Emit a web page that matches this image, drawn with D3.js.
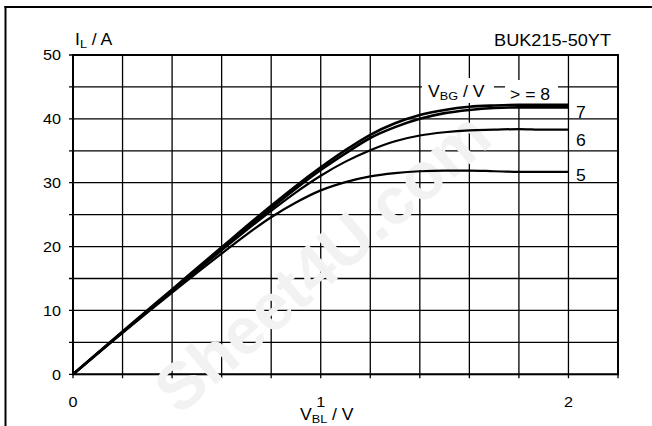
<!DOCTYPE html>
<html>
<head>
<meta charset="utf-8">
<script src="https://cdn.jsdelivr.net/npm/d3@7/dist/d3.min.js"></script>
<style>
  html, body { margin: 0; padding: 0; background: #fff; }
  svg { display: block; }
  text { font-family: "Liberation Sans", Arial, sans-serif; fill: #000; }
</style>
</head>
<body>
<svg id="chart" width="652" height="426"></svg>
<script>
// ---- data ----
const vbl = [0, 0.2, 0.4, 0.6, 0.8, 0.9, 1.0, 1.1, 1.2, 1.3, 1.4, 1.5, 1.6, 1.7, 1.8, 1.9, 2.0];
const iL_ge8 = [0, 6.7, 13.3, 19.9, 26.4, 29.5, 32.4, 35.1, 37.5, 39.3, 40.6, 41.4, 41.9, 42.1, 42.2, 42.2, 42.2];
const iL_7   = [0, 6.6, 13.1, 19.6, 26.0, 29.1, 32.0, 34.6, 37.0, 38.7, 40.0, 40.9, 41.4, 41.7, 41.8, 41.8, 41.8];
const iL_6   = [0, 6.6, 13.0, 19.4, 25.6, 28.5, 31.1, 33.3, 35.1, 36.5, 37.4, 37.9, 38.2, 38.3, 38.4, 38.3, 38.3];
const iL_5   = [0, 6.5, 12.8, 18.9, 24.6, 26.9, 28.8, 30.1, 31.0, 31.5, 31.8, 31.9, 31.9, 31.8, 31.7, 31.7, 31.7];
const seriesNames = ["> = 8", "7", "6", "5"];
const xTickLabels = ["0", "1", "2"];
const yTickLabels = ["0", "10", "20", "30", "40", "50"];
const deviceName = "BUK215-50YT";
const watermark = "Sheet4U.com";

const series = [iL_ge8, iL_7, iL_6, iL_5];

// ---- layout ----
const svg = d3.select("#chart");
const x = d3.scaleLinear().domain([0, 2.2]).range([73, 618]);
const y = d3.scaleLinear().domain([0, 50]).range([374.3, 55]);

// outer frame (left + top)
svg.append("line").attr("x1", 5.5).attr("x2", 5.5).attr("y1", 6).attr("y2", 426)
  .attr("stroke", "#000").attr("stroke-width", 2);
svg.append("line").attr("x1", 4.5).attr("x2", 652).attr("y1", 7).attr("y2", 7)
  .attr("stroke", "#000").attr("stroke-width", 2);

// grid
const g = svg.append("g");
const xGrid = d3.range(0, 2.2001, 0.2);
const yGrid = d3.range(0, 50.001, 5);
g.selectAll(".vg").data(xGrid).join("line")
  .attr("x1", d => x(d)).attr("x2", d => x(d))
  .attr("y1", y(50)).attr("y2", y(0) + 4)
  .attr("stroke", "#000").attr("stroke-width", 1.3);
g.selectAll(".hg").data(yGrid).join("line")
  .attr("x1", x(0) - 4).attr("x2", x(2.2))
  .attr("y1", d => y(d)).attr("y2", d => y(d))
  .attr("stroke", "#000").attr("stroke-width", 1.3);
// thicker frame
g.append("rect").attr("x", x(0)).attr("y", y(50))
  .attr("width", x(2.2) - x(0)).attr("height", y(0) - y(50))
  .attr("fill", "none").attr("stroke", "#000").attr("stroke-width", 2);

// watermark
svg.append("text").attr("transform", "translate(322,262) rotate(-41)")
  .attr("text-anchor", "middle").attr("dominant-baseline", "central")
  .style("font-size", "66px").style("font-weight", "bold").style("fill", "#f2f2f2")
  .text(watermark);

// label backgrounds
svg.append("rect").attr("x", 422).attr("y", 78).attr("width", 72).attr("height", 25).attr("fill", "#fff");
svg.append("rect").attr("x", 505).attr("y", 80).attr("width", 53).attr("height", 24).attr("fill", "#fff");

// curves
const line = d3.line().x((d, i) => x(vbl[i])).y(d => y(d)).curve(d3.curveMonotoneX);
svg.selectAll(".curve").data(series).join("path")
  .attr("d", d => line(d))
  .attr("fill", "none").attr("stroke", "#000")
  .attr("stroke-width", (d, i) => i < 2 ? 2.6 : 2.2)
  .attr("stroke-linejoin", "round");

// tick labels
const fs = 15;
svg.selectAll(".yt").data(yTickLabels).join("text")
  .attr("transform", d => `translate(61,${y(+d)}) scale(1.08,1)`)
  .attr("text-anchor", "end").attr("dominant-baseline", "central")
  .style("font-size", fs + "px").text(d => d);
svg.selectAll(".xt").data(xTickLabels).join("text")
  .attr("transform", d => `translate(${x(+d)},402) scale(1.08,1)`)
  .attr("text-anchor", "middle").attr("dominant-baseline", "central")
  .style("font-size", fs + "px").text(d => d);

// axis titles
function sub(base, subTxt, rest, tx, ty, size, anchor) {
  const el = svg.append("text")
    .attr("transform", `translate(${tx},${ty}) scale(1.1,1)`)
    .attr("text-anchor", anchor || "start")
    .style("font-size", size + "px");
  el.append("tspan").text(base);
  el.append("tspan").attr("dy", 3).style("font-size", (size * 0.72) + "px").text(subTxt);
  el.append("tspan").attr("dy", -3).text(rest);
  return el;
}
sub("I", "L", " / A", 75, 45, 16);
sub("V", "BL", " / V", 300, 420, 16);
sub("V", "BG", " / V", 428, 97, 16);

svg.append("text").attr("transform", "translate(611,46) scale(1.1,1)")
  .attr("text-anchor", "end").style("font-size", "16.5px").text(deviceName);

// series labels
svg.append("text").attr("transform", "translate(510,100) scale(1.1,1)")
  .style("font-size", "16px").text(seriesNames[0]);
const endLabelY = [null, 118, 146, 181];
[1, 2, 3].forEach(i => {
  svg.append("text").attr("transform", `translate(576,${endLabelY[i]}) scale(1.1,1)`)
    .style("font-size", "16px").text(seriesNames[i]);
});
</script>
</body>
</html>
